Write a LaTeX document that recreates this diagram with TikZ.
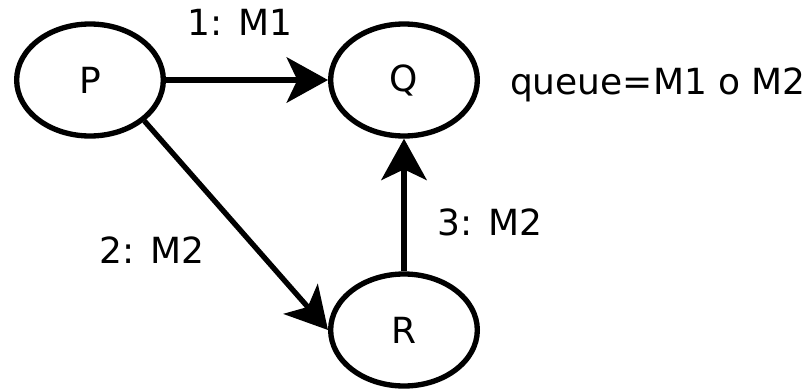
\documentclass[tikz,border=0pt]{standalone}
\usepackage{fontspec}
\setmainfont{DejaVu Sans}
\usetikzlibrary{arrows.meta, shapes.geometric}
\tikzset{
    font=\fontsize{27}{32}\selectfont,
    >={Stealth[length=31pt, width=34pt, inset=8pt]},
    % Processes
    proc/.style={ellipse, draw, line width=4pt, inner sep=0pt,
                 minimum width=110pt, minimum height=84pt},
    % Messages
    msg/.style={->, line width=4pt},
    lbl/.style={anchor=base, inner sep=0pt}
}
\begin{document}
\begin{tikzpicture}[x=0.75pt, y=-0.75pt]
\useasboundingbox (0,0) rectangle (808,390);

\node[proc] (P) at (90,80) {P};
\node[proc] (Q) at (404,80) {Q};
\node[proc] (R) at (404,330) {R};

\draw[msg] (P) -- (Q);
\draw[msg] (P.-37) -- (R.west);
\draw[msg] (R) -- (Q);

\node[lbl] (m1) at (240,35) {1: M1};
\node[lbl] (m2) at (152,263) {2: M2};
\node[lbl] (m3) at (490,235) {3: M2};
\node[lbl] (queue) at (658,94) {queue=M1 o M2};

\end{tikzpicture}
\end{document}
